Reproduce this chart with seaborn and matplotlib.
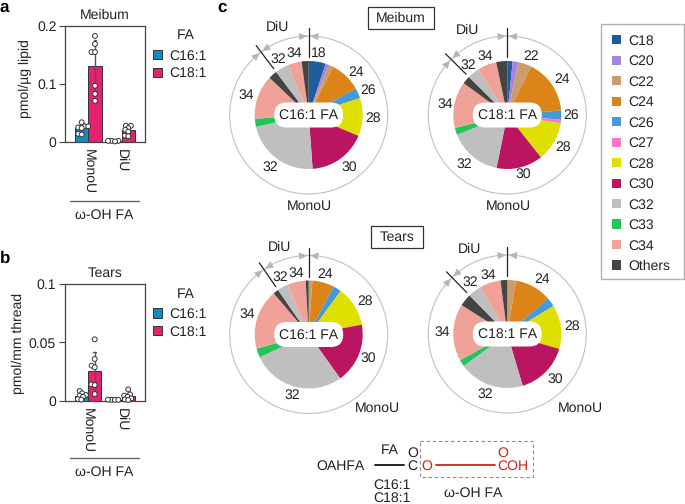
import numpy as np
import pandas as pd
import seaborn as sns
import matplotlib
matplotlib.use("Agg")
import matplotlib.pyplot as plt
from matplotlib.patches import Patch, Circle, FancyBboxPatch, Polygon, Rectangle

sns.set_theme(style="ticks")
plt.rcParams["font.family"] = ["Liberation Sans", "DejaVu Sans"]
plt.rcParams["text.hinting"] = "no_hinting"
plt.rcParams["text.hinting_factor"] = 1
FS = 10.1
INK = "#222222"
SPINE = "#444444"

# ---------- data ----------
lipid_order = ["MonoU", "DiU"]
fa_order = ["C16:1", "C18:1"]
fa_colors = ["#0f8cc6", "#e6226f"]

meibum_mono_c16 = [0.034, 0.027, 0.027, 0.025, 0.024, 0.014, 0.013]
meibum_mono_c18 = [0.183, 0.169, 0.155, 0.155, 0.097, 0.083, 0.071]
meibum_diu_c16 = [0.002, 0.002, 0.002, 0.001]
meibum_diu_c18 = [0.028, 0.028, 0.024, 0.021, 0.018, 0.011, 0.010]

tears_mono_c16 = [0.0083, 0.0063, 0.0049, 0.0043, 0.0034, 0.0014, 0.0009]
tears_mono_c18 = [0.0526, 0.0357, 0.030, 0.0286, 0.014, 0.0134, 0.0057]
tears_diu_c16 = [0.0008, 0.0009, 0.0007, 0.0008]
tears_diu_c18 = [0.0097, 0.0054, 0.0043, 0.0034, 0.002, 0.0011, 0.0006]

legend_labels = ["C18", "C20", "C22", "C24", "C26", "C27", "C28", "C30", "C32", "C33", "C34", "Others"]
chain_colors = dict(zip(legend_labels, [
    "#1f5c9c", "#a783e0", "#c99d6e", "#dc8417", "#439ad6", "#fb78c4",
    "#dde000", "#bb1561", "#bfbfbf", "#22c55a", "#f0a299", "#444444"]))

# composition (%) clockwise from 12 o'clock: MonoU species, then DiU species
p1_mono = ["C18", "C20", "C22", "C24", "C26", "C28", "C30", "C32", "C33", "C34", "Others"]
p1_mono_vals = [5.1, 1.0, 1.4, 9.3, 3.1, 11.4, 17.5, 22.6, 2.4, 13.2, 2.6]
p2_mono = ["C18", "C20", "C22", "C24", "C26", "C27", "C28", "C30", "C32", "C33", "C34", "Others"]
p2_mono_vals = [1.6, 1.7, 4.0, 16.4, 2.8, 1.0, 11.9, 13.9, 15.9, 2.1, 13.9, 2.4]
p3_mono = ["C22", "C24", "C26", "C28", "C30", "C32", "C33", "C34", "Others"]
p3_mono_vals = [1.1, 6.5, 2.5, 12.0, 18.0, 28.0, 2.7, 18.0, 1.6]
p4_mono = ["C22", "C24", "C26", "C28", "C30", "C32", "C33", "C34", "Others"]
p4_mono_vals = [2.6, 11.0, 2.7, 13.1, 15.9, 19.5, 2.0, 17.0, 3.7]
diu_species = ["C32", "C34", "Others"]
p1_diu_vals = [4.1, 4.1, 2.1]
p2_diu_vals = [3.5, 5.8, 3.3]
p3_diu_vals = [3.2, 5.5, 0.9]
p4_diu_vals = [4.0, 6.3, 2.0]

pie_titles = ["C16:1 FA", "C18:1 FA", "C16:1 FA", "C18:1 FA"]

W, H = 685, 504
fig = plt.figure(figsize=(W / 100, H / 100), dpi=100)
swarm_layers = []


def frame(x0, y0, x1, y1):
    return [x0 / W, 1 - y1 / H, (x1 - x0) / W, (y1 - y0) / H]


def tidy(mc16, mc18, dc16, dc18):
    rows = []
    for lip, fa, vals in [("MonoU", "C16:1", mc16), ("MonoU", "C18:1", mc18),
                          ("DiU", "C16:1", dc16), ("DiU", "C18:1", dc18)]:
        rows += [{"lipid": lip, "FA": fa, "value": v} for v in vals]
    return pd.DataFrame(rows)


def bars(df, box, ymax, ticks, ticklabels, title, ylabel, ylabel_xy, legend_top):
    ax = fig.add_axes(frame(*box))
    sns.barplot(data=df, x="lipid", y="value", hue="FA", order=lipid_order, hue_order=fa_order,
                palette=fa_colors, saturation=1, errorbar="sd", capsize=0.16, width=0.8,
                err_kws={"color": "#555555", "linewidth": 1.0},
                edgecolor="#333333", linewidth=0.7, ax=ax, legend=False)
    before = len(ax.collections)
    # swarm packed tightly (the points overlap in the figure); sized up after layout
    sns.swarmplot(data=df, x="lipid", y="value", hue="FA", order=lipid_order, hue_order=fa_order,
                  dodge=True, size=2.4, palette=["white", "white"], linewidth=0,
                  ax=ax, legend=False, zorder=5, clip_on=False)
    swarm_layers.extend(ax.collections[before:])
    ax.set_xlim(-0.7, 1.7)
    ax.set_ylim(0, ymax)
    ax.set_yticks(ticks, ticklabels)
    ax.set_xlabel("")
    ax.set_ylabel("")
    ax.tick_params(axis="y", labelsize=FS, length=4, width=0.8, color=SPINE, labelcolor=INK, pad=2)
    ax.tick_params(axis="x", labelsize=FS, length=0, labelrotation=270, labelcolor=INK, pad=5)
    for s in ax.spines.values():
        s.set_visible(True)
        s.set_color(SPINE)
        s.set_linewidth(0.9)
    ax.set_title(title, fontsize=FS, color=INK, pad=5)
    fig.text(ylabel_xy[0] / W, 1 - ylabel_xy[1] / H, ylabel, rotation=90, fontsize=FS,
             color=INK, ha="center", va="center")
    handles = [Patch(facecolor=c, edgecolor="#333333", linewidth=0.7, label=l)
               for c, l in zip(fa_colors, fa_order)]
    leg = fig.legend(handles=handles, frameon=False, fontsize=FS,
                     loc="upper left", bbox_to_anchor=(153 / W, 1 - legend_top / H),
                     bbox_transform=fig.transFigure, borderaxespad=0, borderpad=0,
                     handlelength=0.66, handleheight=0.66, handletextpad=0.5, labelspacing=0.32)
    for t in leg.get_texts():
        t.set_color(INK)
    return ax


bars(tidy(meibum_mono_c16, meibum_mono_c18, meibum_diu_c16, meibum_diu_c18),
     (65, 26, 145, 142), 0.2, [0, 0.1, 0.2], ["0", "0.1", "0.2"], "Meibum", "pmol/µg lipid", (25.7, 79), 49.5)
bars(tidy(tears_mono_c16, tears_mono_c18, tears_diu_c16, tears_diu_c18),
     (64.5, 284, 145, 400.7), 0.1, [0, 0.05, 0.1], ["0", "0.05", "0.1"], "Tears", "pmol/mm thread", (18, 343), 308)

# ---------- pies ----------
pies = [
    (308.7, 115.0, p1_mono, p1_mono_vals, p1_diu_vals),
    (507.3, 115.0, p2_mono, p2_mono_vals, p2_diu_vals),
    (308.7, 334.5, p3_mono, p3_mono_vals, p3_diu_vals),
    (507.3, 334.0, p4_mono, p4_mono_vals, p4_diu_vals),
]
R_PIE, R_RING = 54, 79
for cx, cy, mono, mono_vals, diu_vals in pies:
    ax = fig.add_axes(frame(cx - R_PIE - 1, cy - R_PIE - 1, cx + R_PIE + 1, cy + R_PIE + 1))
    names = list(mono) + diu_species
    ax.pie(list(mono_vals) + list(diu_vals), colors=[chain_colors[n] for n in names],
           startangle=90, counterclock=False, radius=1,
           wedgeprops={"linewidth": 0})
    ax.set_xlim(-55 / 54, 55 / 54)
    ax.set_ylim(-55 / 54, 55 / 54)

# ---------- overlay (pixel coordinates) ----------
ov = fig.add_axes([0, 0, 1, 1], zorder=10)
ov.set_xlim(0, W)
ov.set_ylim(H, 0)
ov.axis("off")
ov.patch.set_alpha(0)


def T(x, y, s, color=INK, **kw):
    kw.setdefault("ha", "center")
    kw.setdefault("va", "center")
    kw.setdefault("fontsize", FS)
    ov.text(x, y, s, color=color, **kw)


def polar(cx, cy, r, deg):
    a = np.deg2rad(deg)
    return cx + r * np.sin(a), cy - r * np.cos(a)


def divider(cx, cy, deg):
    p0, p1 = polar(cx, cy, 58, deg), polar(cx, cy, 87, deg)
    ov.plot([p0[0], p1[0]], [p0[1], p1[1]], color="#222222", lw=0.9, zorder=4)
    for sgn in (-1, 1):
        tip = polar(cx, cy, R_RING, deg + sgn * 0.9)
        b0 = polar(cx, cy, R_RING - 3.6, deg + sgn * 7)
        b1 = polar(cx, cy, R_RING + 3.6, deg + sgn * 7)
        ov.add_patch(Polygon([tip, b0, b1], closed=True, facecolor="#b5b5b5", edgecolor="none", zorder=3))


for (cx, cy, mono, mono_vals, diu_vals), title in zip(pies, pie_titles):
    ov.add_patch(Circle((cx, cy), R_RING, facecolor="none", edgecolor="#c4c4c4", lw=0.85, zorder=2))
    divider(cx, cy, 0)
    divider(cx, cy, 360 * sum(mono_vals) / (sum(mono_vals) + sum(diu_vals)))
    ov.add_patch(FancyBboxPatch((cx - 22, cy), 44, 0.01,
                                boxstyle="round,pad=12.5,rounding_size=12.5",
                                facecolor="white", edgecolor="none", zorder=5))
    T(cx, cy + 0.5, title, zorder=6)

# chain-length labels: (x, y, text) read in pixels
labels_1 = [(277.7, 27.3, "DiU"), (318.7, 53.3, "18"), (356.3, 72.7, "24"), (368.3, 90, "26"),
            (372.7, 118.7, "28"), (349.7, 167.3, "30"), (270.7, 167, "32"), (246, 95.7, "34"),
            (278.7, 59, "32"), (294.3, 53.3, "34"), (309.7, 206, "MonoU")]
labels_2 = [(468, 30.3, "DiU"), (530.7, 56.7, "22"), (562.3, 79.3, "24"), (570.7, 115, "26"),
            (562.7, 147, "28"), (523.7, 174.7, "30"), (464.3, 164, "32"), (445.3, 104.3, "34"),
            (468.3, 65.7, "32"), (485.7, 56.7, "34"), (508, 206, "MonoU")]
labels_3 = [(279.3, 247, "DiU"), (325, 274.3, "24"), (365.3, 301.3, "28"), (368.7, 358.3, "30"),
            (292, 395.3, "32"), (247, 314.7, "34"), (280.3, 277.7, "32"), (296, 273.7, "34"),
            (377.3, 408, "MonoU")]
labels_4 = [(470, 249, "DiU"), (541.7, 279, "24"), (572.3, 326.7, "28"), (555.7, 379, "30"),
            (485.7, 394.3, "32"), (442.7, 332.3, "34"), (470.3, 282, "32"), (488.3, 275.3, "34"),
            (580, 408, "MonoU")]
for group in (labels_1, labels_2, labels_3, labels_4):
    for x, y, s in group:
        T(x, y, s)

# panel letters, legend titles and sample boxes
T(0, 7.5, "a", ha="left", fontweight="bold", fontsize=12, color="black")
T(0, 258, "b", ha="left", fontweight="bold", fontsize=12, color="black")
T(217, 7.5, "c", ha="left", fontweight="bold", fontsize=12, color="black")
T(186, 35, "FA")
T(186, 294, "FA")
ov.add_patch(Rectangle((368, 6.7), 66, 22.6, facecolor="white", edgecolor="#333333", lw=0.9))
T(401, 18, "Meibum")
ov.add_patch(Rectangle((371, 226), 52, 21.7, facecolor="white", edgecolor="#333333", lw=0.9))
T(397, 237, "Tears")

# brackets under bar panels
for y0 in (200.7, 457.7):
    ov.plot([70, 139], [y0, y0], color="#666666", lw=1.0)
    T(104.5, y0 + 15, "ω-OH FA")

# chemical scheme
RED = "#c8281c"
T(365, 466, "OAHFA", ha="right")
T(390, 450, "FA")
ov.plot([375, 404], [465, 465], color="#111111", lw=1.3)
T(413, 453, "O")
T(412.7, 466, "C")
T(426.7, 466, "O", color=RED)
ov.plot([436, 495], [465, 465], color=RED, lw=1.3)
T(502.7, 453, "O", color=RED)
T(512.7, 466, "COH", color=RED)
ov.add_patch(Rectangle((420, 441), 113.3, 36.3, facecolor="none", edgecolor="#8c8c8c", lw=0.8, ls=(0, (3, 2.5))))
T(391.7, 485.7, "C16:1")
T(391.7, 498.3, "C18:1")
T(473, 493, "ω-OH FA")

# chain legend
ov.add_patch(Rectangle((601, 24), 83, 255, facecolor="none", edgecolor="#b0b0b0", lw=1.0))
handles = [Patch(facecolor=chain_colors[n], edgecolor="none", label=n) for n in legend_labels]
leg = fig.legend(handles=handles, loc="upper left", bbox_to_anchor=(612 / W, 1 - 34.5 / H),
                 bbox_transform=fig.transFigure, borderaxespad=0, borderpad=0, fontsize=FS,
                 frameon=False, handlelength=0.62, handleheight=0.62, handletextpad=0.55,
                 labelspacing=0.53)
for t in leg.get_texts():
    t.set_color(INK)

# seaborn lays the swarm out at draw time: do that once, then freeze and enlarge the points
fig.canvas.draw()
for coll in swarm_layers:
    coll.__dict__.pop("draw", None)
    coll.set_sizes([3.5 ** 2])
    coll.set_edgecolor("#333333")
    coll.set_linewidth(0.7)

fig.savefig("out.png", dpi=100)
